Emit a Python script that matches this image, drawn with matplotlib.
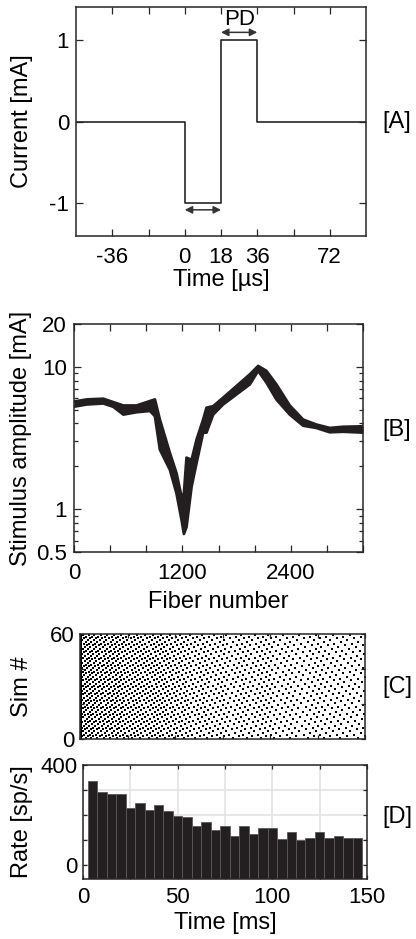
import numpy as np
import matplotlib
matplotlib.use("Agg")
import matplotlib.pyplot as plt

plt.rcParams['font.family'] = ['Liberation Sans', 'DejaVu Sans']
plt.rcParams['axes.unicode_minus'] = False

# [A] biphasic pulse
pulse_t = [-54, 0, 0, 18, 18, 36, 36, 90]
pulse_i = [0, 0, -1, -1, 1, 1, 0, 0]

# [B] stimulus threshold per fiber (lower / upper edge of the noisy band)
fiber = [0, 140, 324, 435, 546, 693, 841, 896, 951, 1062, 1135, 1191, 1217,
         1246, 1302, 1357, 1430, 1467, 1541, 1651, 1799, 1947, 2039, 2131,
         2241, 2389, 2537, 2684, 2832, 2979, 3200]
amp_lo = [5.25, 5.44, 5.53, 5.24, 4.62, 4.8, 4.9, 4.5, 2.62, 1.89, 1.29, 0.84,
          0.67, 0.75, 1.44, 2.11, 3.45, 3.45, 4.62, 5.44, 6.4, 7.53, 9.36,
          7.75, 5.9, 4.62, 3.86, 3.72, 3.47, 3.5, 3.45]
amp_hi = [5.7, 5.9, 5.97, 5.65, 5.35, 5.35, 5.75, 5.9, 4.26, 2.48, 1.79, 1.22,
          1.29, 2.3, 2.22, 3.08, 4.26, 5.16, 5.29, 6.07, 7.33, 8.86, 10.15,
          9.36, 7.53, 5.35, 4.26, 3.93, 3.72, 3.79, 3.82]

# [D] PSTH, 5 ms bins
bin_centers = list(range(5, 150, 5))
rates = [336, 292, 284, 284, 228, 247, 219, 239, 215, 196, 191, 156, 171, 142,
         158, 116, 155, 123, 147, 147, 103, 131, 99, 107, 131, 107, 116, 107, 107]

# [C] raster, 60 simulations, built from the PSTH rates
n_sims = 60
onset_time = 0.5
phase_step = 0.618034

fine_t = np.arange(0, 150, 0.05)
fine_rate = np.interp(fine_t, bin_centers, rates)
cum = np.cumsum(fine_rate) * 0.05 / 1000.0
spk_t, spk_y = [], []
for k in range(n_sims):
    phase = (k * phase_step) % 1
    spk_t.append(onset_time)
    spk_y.append(k + 0.5)
    n = 1
    while True:
        idx = np.searchsorted(cum, n - phase)
        if idx >= len(fine_t):
            break
        spk_t.append(fine_t[idx])
        spk_y.append(k + 0.5)
        n += 1

W, H = 416, 939
fig = plt.figure(figsize=(W / 100, H / 100), dpi=100)

def box(l, t, r, b):
    return [l / W, 1 - b / H, (r - l) / W, (b - t) / H]

dark = '#262626'
tick_fs = 16
lab_fs = 17

def style(ax):
    ax.tick_params(direction='in', top=True, right=True, length=5, width=0.9,
                   labelsize=tick_fs, colors=dark, labelcolor='black')
    ax.tick_params(which='minor', direction='in', top=True, right=True,
                   length=3, width=0.9, colors=dark)
    for s in ax.spines.values():
        s.set_color(dark)
        s.set_linewidth(1.1)

# ---- A
axA = fig.add_axes(box(76, 7, 366, 236))
axA.plot(pulse_t, pulse_i, color='#262626', lw=1.2)
axA.set_xlim(-54, 90)
axA.set_ylim(-1.4, 1.4)
axA.set_xticks([-36, -18, 0, 18, 36, 54, 72])
axA.set_xticklabels(['-36', '', '0', '18', '36', '', '72'])
axA.set_yticks([-1, 0, 1])
axA.set_yticklabels(['-1', '0', '1'])
style(axA)
axA.tick_params(axis='x', pad=8)
axA.tick_params(axis='y', pad=5)
arr = dict(arrowstyle='<|-|>', color='#333333', lw=1.1, mutation_scale=11,
           shrinkA=0, shrinkB=0)
axA.annotate('', xy=(18, -1.08), xytext=(0, -1.08), arrowprops=arr)
axA.annotate('', xy=(36, 1.09), xytext=(18, 1.09), arrowprops=arr)
axA.text(27, 1.25, 'PD', ha='center', va='center', fontsize=tick_fs)
axA.set_xlabel('Time [µs]', fontsize=lab_fs)
axA.set_ylabel('Current [mA]', fontsize=lab_fs)
axA.xaxis.set_label_coords(0.5, (236 - 280) / 229)
axA.yaxis.set_label_coords((22 - 76) / 290, 0.5)
axA.xaxis.label.set_va('center')
axA.yaxis.label.set_va('center')

# ---- B
axB = fig.add_axes(box(74, 324, 363, 552))
axB.fill_between(fiber, amp_lo, amp_hi, color='#231f20', lw=0)
axB.plot(fiber, amp_lo, color='#231f20', lw=2)
axB.plot(fiber, amp_hi, color='#231f20', lw=2)
axB.set_yscale('log')
axB.set_xlim(0, 3200)
axB.set_ylim(0.5, 20)
axB.set_xticks(range(0, 3201, 400))
axB.set_xticklabels(['0', '', '', '1200', '', '', '2400', '', ''])
axB.set_yticks([0.5, 1, 10, 20])
axB.set_yticklabels(['0.5', '1', '10', '20'])
axB.yaxis.set_minor_formatter(matplotlib.ticker.NullFormatter())
style(axB)
axB.tick_params(axis='x', pad=8)
axB.tick_params(axis='y', pad=5)
axB.set_xlabel('Fiber number', fontsize=lab_fs)
axB.set_ylabel('Stimulus amplitude [mA]', fontsize=lab_fs)
axB.xaxis.set_label_coords(0.5, (552 - 602) / 228)
axB.yaxis.set_label_coords((21 - 74) / 289, 0.5)
axB.xaxis.label.set_va('center')
axB.yaxis.label.set_va('center')

# ---- C
axC = fig.add_axes(box(80, 634, 365, 739))
axC.scatter(spk_t, spk_y, s=4.5, marker='s', color='black', linewidths=0)
axC.set_xlim(0, 150)
axC.set_ylim(0, 60)
axC.set_xticks(range(0, 151, 25))
axC.set_xticklabels([])
axC.set_yticks([0, 20, 40, 60])
axC.set_yticklabels(['0', '', '', '60'])
style(axC)
axC.tick_params(length=3)
axC.tick_params(axis='y', pad=4)
axC.set_ylabel('Sim #', fontsize=lab_fs)
axC.yaxis.set_label_coords((22 - 80) / 285, 0.5)
axC.yaxis.label.set_va('center')

# ---- D
axD = fig.add_axes(box(83, 765, 367, 879))
ylo = -55
axD.bar(bin_centers, [r - ylo for r in rates], width=5, bottom=ylo,
        color='#231f20', edgecolor='#5a5a5a', linewidth=0.6, zorder=2)
axD.set_xlim(0, 150)
axD.set_ylim(ylo, 400)
axD.set_xticks(range(0, 151, 25))
axD.set_xticklabels(['0', '', '50', '', '100', '', '150'])
axD.set_yticks([0, 100, 200, 300, 400])
axD.set_yticklabels(['0', '', '', '', '400'])
axD.grid(True, color='#e3e3e3', lw=1.2, zorder=0)
axD.set_axisbelow(True)
style(axD)
axD.tick_params(length=3)
axD.tick_params(axis='x', pad=6)
axD.tick_params(axis='y', pad=4)
axD.set_xlabel('Time [ms]', fontsize=lab_fs)
axD.set_ylabel('Rate [sp/s]', fontsize=lab_fs)
axD.xaxis.set_label_coords(0.5, (879 - 923) / 114)
axD.yaxis.set_label_coords((22 - 83) / 284, 0.5)
axD.xaxis.label.set_va('center')
axD.yaxis.label.set_va('center')

# panel letters
for lab, y in [('[A]', 122), ('[B]', 430), ('[C]', 687), ('[D]', 817)]:
    fig.text(397 / W, 1 - y / H, lab, ha='center', va='center', fontsize=lab_fs)

fig.savefig('out.png', dpi=100)
